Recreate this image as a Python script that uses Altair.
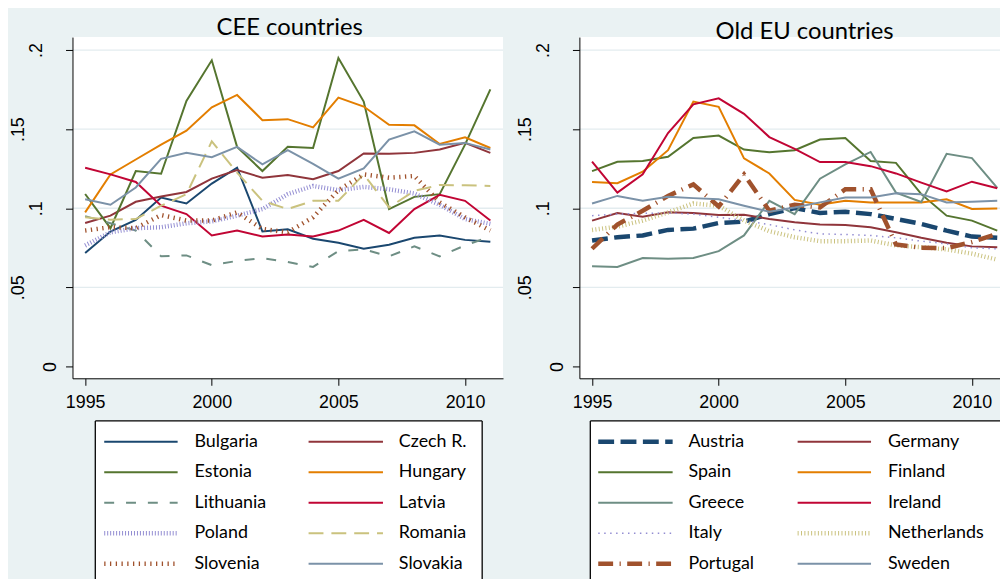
import altair as alt
import pandas as pd

years = list(range(1995, 2012))

# ---- CEE countries ----
cee_names = ["Bulgaria", "Czech R.", "Estonia", "Hungary", "Lithuania",
             "Latvia", "Poland", "Romania", "Slovenia", "Slovakia"]
bulgaria = [0.0717, 0.0853, 0.0926, 0.1068, 0.1030, 0.1156, 0.1256, 0.0853, 0.0867,
            0.0807, 0.0782, 0.0744, 0.0769, 0.0813, 0.0828, 0.0800, 0.0788]
czech = [0.0907, 0.0953, 0.1041, 0.1074, 0.1103, 0.1187, 0.1241, 0.1193, 0.1210,
         0.1183, 0.1235, 0.1346, 0.1344, 0.1350, 0.1371, 0.1413, 0.1350]
estonia = [0.1090, 0.0874, 0.1235, 0.1218, 0.1678, 0.1935, 0.1388, 0.1235, 0.1388,
           0.1381, 0.1950, 0.1674, 0.0995, 0.1072, 0.1089, 0.1402, 0.1751]
hungary = [0.0974, 0.1214, 0.1308, 0.1402, 0.1490, 0.1638, 0.1716, 0.1557, 0.1563,
           0.1511, 0.1699, 0.1643, 0.1528, 0.1524, 0.1406, 0.1448, 0.1381]
lithuania = [0.0950, 0.0905, 0.0859, 0.0696, 0.0702, 0.0640, 0.0667, 0.0685, 0.0660,
             0.0629, 0.0729, 0.0740, 0.0696, 0.0759, 0.0696, 0.0765, 0.0821]
latvia = [0.1256, 0.1214, 0.1166, 0.1016, 0.0963, 0.0828, 0.0859, 0.0821, 0.0834,
          0.0821, 0.0859, 0.0926, 0.0844, 0.0995, 0.1085, 0.1047, 0.0922]
poland = [0.0765, 0.0848, 0.0874, 0.0880, 0.0905, 0.0917, 0.0953, 0.0995, 0.1089,
          0.1141, 0.1114, 0.1135, 0.1120, 0.1093, 0.1022, 0.0932, 0.0901]
romania = [0.0943, 0.0928, 0.0932, 0.1016, 0.1089, 0.1423, 0.1225, 0.1047, 0.0995,
           0.1047, 0.1047, 0.1214, 0.1005, 0.1110, 0.1147, 0.1145, 0.1141]
slovenia = [0.0859, 0.0880, 0.0874, 0.0957, 0.0922, 0.0922, 0.0974, 0.0869, 0.0848,
            0.0943, 0.1114, 0.1214, 0.1193, 0.1204, 0.1037, 0.0943, 0.0859]
slovakia = [0.1057, 0.1022, 0.1131, 0.1312, 0.1350, 0.1323, 0.1388, 0.1277, 0.1367,
            0.1281, 0.1187, 0.1252, 0.1434, 0.1486, 0.1402, 0.1413, 0.1371]

# ---- Old EU countries ----
old_names = ["Austria", "Germany", "Spain", "Finland", "Greece",
             "Ireland", "Italy", "Netherlands", "Portugal", "Sweden"]
austria = [0.0796, 0.0817, 0.0828, 0.0863, 0.0871, 0.0907, 0.0915, 0.0963, 0.1001,
           0.0970, 0.0978, 0.0963, 0.0932, 0.0901, 0.0859, 0.0821, 0.0813]
germany = [0.0922, 0.0970, 0.0947, 0.0974, 0.0970, 0.0957, 0.0959, 0.0932, 0.0911,
           0.0897, 0.0894, 0.0880, 0.0848, 0.0813, 0.0782, 0.0759, 0.0754]
spain = [0.1235, 0.1294, 0.1298, 0.1325, 0.1444, 0.1459, 0.1371, 0.1354, 0.1367,
         0.1434, 0.1444, 0.1298, 0.1287, 0.1089, 0.0953, 0.0922, 0.0859]
finland = [0.1166, 0.1158, 0.1231, 0.1367, 0.1674, 0.1641, 0.1315, 0.1220, 0.1053,
           0.1022, 0.1047, 0.1037, 0.1037, 0.1037, 0.1057, 0.0995, 0.0999]
greece = [0.0633, 0.0629, 0.0685, 0.0681, 0.0685, 0.0729, 0.0828, 0.1047, 0.0963,
          0.1187, 0.1277, 0.1356, 0.1099, 0.1040, 0.1344, 0.1317, 0.1129]
ireland = [0.1294, 0.1099, 0.1214, 0.1475, 0.1657, 0.1695, 0.1597, 0.1450, 0.1375,
           0.1292, 0.1292, 0.1266, 0.1220, 0.1162, 0.1106, 0.1168, 0.1126]
italy = [0.0953, 0.0963, 0.0968, 0.0970, 0.0963, 0.0943, 0.0922, 0.0897, 0.0863,
         0.0838, 0.0834, 0.0828, 0.0813, 0.0792, 0.0775, 0.0750, 0.0744]
netherlands = [0.0863, 0.0884, 0.0922, 0.0974, 0.1030, 0.1016, 0.0922, 0.0855, 0.0817,
               0.0792, 0.0792, 0.0796, 0.0765, 0.0754, 0.0740, 0.0713, 0.0675]
portugal = [0.0744, 0.0897, 0.0984, 0.1078, 0.1151, 0.1011, 0.1214, 0.0984, 0.1022,
            0.1005, 0.1120, 0.1120, 0.0771, 0.0750, 0.0748, 0.0786, 0.0838]
sweden = [0.1030, 0.1078, 0.1047, 0.1072, 0.1064, 0.1057, 0.1016, 0.0978, 0.1005,
          0.1037, 0.1068, 0.1068, 0.1095, 0.1089, 0.1037, 0.1041, 0.1047]

cee_series = [bulgaria, czech, estonia, hungary, lithuania, latvia, poland, romania, slovenia, slovakia]
old_series = [austria, germany, spain, finland, greece, ireland, italy, netherlands, portugal, sweden]

titles = ["CEE countries", "Old EU countries"]
y_ticks = [0, 0.05, 0.1, 0.15, 0.2]
grid_values = [0.05, 0.1, 0.15, 0.2]
x_ticks = [1995, 2000, 2005, 2010]

# ---- styles (Stata s2color) ----
NAVY, MAROON, GREEN, ORANGE, TEAL = "#1a476f", "#90353b", "#55752f", "#e37e00", "#6e8e84"
CRAN, LAV, KHAKI, SIENNA, EMID = "#c10534", "#938dd2", "#cac27e", "#a0522d", "#7b92a8"

cee_styles = [
    (NAVY, 2, None), (MAROON, 2, None), (GREEN, 2, None), (ORANGE, 2, None),
    (TEAL, 2, [10, 12]), (CRAN, 2, None), (LAV, 4.5, [1, 2]), (KHAKI, 2, [15, 8]),
    (SIENNA, 4.5, [1.3, 4.5]), (EMID, 2, None),
]
old_styles = [
    (NAVY, 4.5, [16, 6.5]), (MAROON, 2, None), (GREEN, 2, None), (ORANGE, 2, None),
    (TEAL, 2, None), (CRAN, 2, None), (LAV, 1.5, [1.5, 4.5]), (KHAKI, 4.5, [1, 2.4]),
    (SIENNA, 4.5, [15, 6.5, 1.2, 6.5]), (EMID, 2, None),
]

BG = "#EAF2F3"
GRID = "#e3ecef"
TOTAL_W, TOTAL_H = 1000, 571
PLOT_TOP, PLOT_BOTTOM = 27, 371
Y_DOMAIN = [-0.0075, 0.2082]
X_DOMAIN = [1994.5, 2011.5]

one = pd.DataFrame({"k": [0]})


def make_df(names, series):
    rows = []
    for n, s in zip(names, series):
        for yr, v in zip(years, s):
            rows.append({"country": n, "year": yr, "value": v})
    return pd.DataFrame(rows)


def panel(names, series, styles, x0, x1):
    df = make_df(names, series)
    x_scale = alt.Scale(domain=X_DOMAIN, range=[x0, x1], nice=False, zero=False)
    y_scale = alt.Scale(domain=Y_DOMAIN, range=[PLOT_BOTTOM, PLOT_TOP], nice=False, zero=False)
    x_axis = alt.Axis(values=x_ticks, format="d", title=None, grid=False, labelFlush=False,
                      labelAngle=0, labelFont="Liberation Sans", labelFontSize=18,
                      labelColor="black", labelPadding=8, tickSize=7, tickColor="black",
                      tickWidth=1, domainColor="black", domainWidth=1, orient="bottom",
                      offset=-(TOTAL_H - PLOT_BOTTOM), zindex=1)
    y_axis = alt.Axis(values=y_ticks, title=None, grid=False, orient="left", offset=-x0, zindex=1,
                      labelExpr="datum.value == 0 ? '0' : replace(toString(datum.value), '0.', '.')",
                      labelAngle=270, labelAlign="center", labelBaseline="alphabetic",
                      labelPadding={"condition": [
                          {"test": "abs(datum.value) < 0.001", "value": 10},
                          {"test": "abs(datum.value - 0.05) < 0.001 || abs(datum.value - 0.15) < 0.001",
                           "value": 42}],
                          "value": 24},
                      labelFont="Liberation Sans", labelFontSize=18, labelColor="black",
                      labelFlush=False, labelOverlap=False,
                      tickSize=7, tickColor="black", tickWidth=1, domainColor="black", domainWidth=1)

    bg = alt.Chart(one).mark_rect(fill="white", stroke=None).encode(
        x=alt.value(x0), x2=alt.value(x1), y=alt.value(PLOT_TOP), y2=alt.value(PLOT_BOTTOM))
    grid = alt.Chart(pd.DataFrame({"g": grid_values})).mark_rule(color=GRID, strokeWidth=1.3).encode(
        x=alt.value(x0), x2=alt.value(x1),
        y=alt.Y("g:Q", scale=y_scale, axis=y_axis))
    layers = [bg, grid]
    for n, (col, sw, dash) in zip(names, styles):
        mk = dict(color=col, strokeWidth=sw, strokeCap="butt", strokeJoin="miter")
        if dash:
            mk["strokeDash"] = dash
        layers.append(
            alt.Chart(df[df.country == n]).mark_line(**mk).encode(
                x=alt.X("year:Q", scale=x_scale, axis=x_axis),
                y=alt.Y("value:Q", scale=y_scale, axis=y_axis),
            )
        )
    return alt.layer(*layers)


def legend(names, styles, box_x0, box_x1, right_border, sym_x, text_x):
    ldf = pd.DataFrame({"name": names,
                        "row": [i // 2 for i in range(len(names))],
                        "col": [i % 2 for i in range(len(names))]})
    yenc = alt.Y("row:O", scale=alt.Scale(type="point", range=[435, 558], padding=0), axis=None)
    top, bottom = 414, 640
    layers = [
        alt.Chart(one).mark_rect(fill="white", stroke=None)
        .encode(x=alt.value(box_x0), x2=alt.value(box_x1), y=alt.value(top), y2=alt.value(bottom)),
        alt.Chart(one).mark_rule(color="black", strokeWidth=1.3)
        .encode(x=alt.value(box_x0), x2=alt.value(box_x1), y=alt.value(top)),
        alt.Chart(one).mark_rule(color="black", strokeWidth=1.3)
        .encode(x=alt.value(box_x0), y=alt.value(top), y2=alt.value(bottom)),
    ]
    if right_border:
        layers.append(alt.Chart(one).mark_rule(color="black", strokeWidth=1.3)
                      .encode(x=alt.value(box_x1), y=alt.value(top), y2=alt.value(bottom)))
    for i, (n, (col, sw, dash)) in enumerate(zip(names, styles)):
        c = i % 2
        mk = dict(color=col, strokeWidth=sw, strokeCap="butt")
        if dash:
            mk["strokeDash"] = dash
        layers.append(
            alt.Chart(ldf[ldf.name == n]).mark_rule(**mk).encode(
                x=alt.value(sym_x[c][0]), x2=alt.value(sym_x[c][1]), y=yenc)
        )
    for c in (0, 1):
        layers.append(
            alt.Chart(ldf[ldf.col == c]).mark_text(align="left", baseline="middle", font="Lato",
                                                   fontSize=18, color="black")
            .encode(x=alt.value(text_x[c]), y=yenc, text="name:N")
        )
    return alt.layer(*layers)


def title_text(i, cx, base_y):
    return alt.Chart(pd.DataFrame({"t": [titles[i]]})).mark_text(
        font="Lato", fontSize=24, color="black", align="center", baseline="alphabetic"
    ).encode(text="t:N", x=alt.value(cx), y=alt.value(base_y))


left_panel = panel(cee_names, cee_series, cee_styles, 65, 499)
right_panel = panel(old_names, old_series, old_styles, 576, 1010)
left_legend = legend(cee_names, cee_styles, 88, 478, True, [(97, 171), (303, 378)], [188, 394])
right_legend = legend(old_names, old_styles, 587, 1020, False, [(595, 670), (796, 870)], [686, 887])

chart = alt.layer(
    left_panel, right_panel, left_legend, right_legend,
    title_text(0, 284, 25), title_text(1, 803, 29),
).resolve_scale(x="independent", y="independent").properties(
    width=TOTAL_W, height=TOTAL_H,
    autosize=alt.AutoSizeParams(type="none"),
    padding=0,
).configure(background=BG).configure_view(stroke=None)

chart.save("out.html", embed_options={"renderer": "svg", "actions": False})
